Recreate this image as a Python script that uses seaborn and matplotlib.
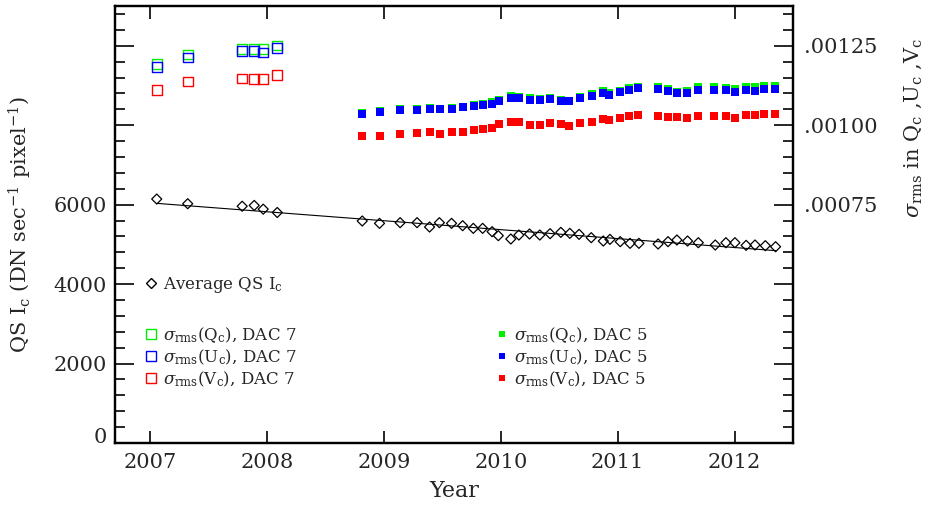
import matplotlib
matplotlib.use("Agg")
import matplotlib.pyplot as plt
from matplotlib.ticker import FixedLocator, FixedFormatter, MultipleLocator
from matplotlib.lines import Line2D
import seaborn as sns

# ---------------- data ----------------
qs_years = [2007.057, 2007.322, 2007.788, 2007.891, 2007.968, 2008.088,
            2008.815, 2008.963, 2009.139, 2009.284, 2009.391, 2009.475, 2009.579,
            2009.674, 2009.765, 2009.845, 2009.926, 2009.979, 2010.086, 2010.155,
            2010.246, 2010.334, 2010.422, 2010.514, 2010.591, 2010.670, 2010.774,
            2010.877, 2010.934, 2011.022, 2011.106, 2011.182, 2011.346, 2011.431,
            2011.507, 2011.598, 2011.690, 2011.835, 2011.926, 2012.003, 2012.099,
            2012.175, 2012.263, 2012.351]
qs_ic = [6141, 6023, 5960, 5980, 5886, 5802,
         5588, 5529, 5546, 5546, 5437, 5546, 5529, 5470, 5403, 5403, 5319, 5219,
         5135, 5235, 5261, 5235, 5269, 5302, 5277, 5252, 5168, 5084, 5126, 5068,
         5026, 5026, 5009, 5068, 5110, 5084, 5042, 4984, 5042, 5042, 4975, 4984,
         4967, 4941]
fit_years = [2007.057, 2012.359]
fit_ic = [6032, 4840]

dac7_years = [2007.057, 2007.322, 2007.788, 2007.891, 2007.968, 2008.088]
dac7_q = [0.001192, 0.001222, 0.001240, 0.001240, 0.001239, 0.001251]
dac7_u = [0.001184, 0.001213, 0.001234, 0.001234, 0.001229, 0.001242]
dac7_v = [0.001111, 0.001137, 0.001147, 0.001146, 0.001146, 0.001157]

dac5_years = [2008.812, 2008.966, 2009.137, 2009.282, 2009.393, 2009.479, 2009.581,
              2009.675, 2009.769, 2009.846, 2009.923, 2009.983, 2010.085, 2010.154,
              2010.248, 2010.333, 2010.419, 2010.513, 2010.581, 2010.675, 2010.778,
              2010.872, 2010.923, 2011.017, 2011.094, 2011.171, 2011.342, 2011.427,
              2011.504, 2011.590, 2011.684, 2011.821, 2011.923, 2012.000, 2012.094,
              2012.171, 2012.256, 2012.342]
dac5_q = [0.0010387, 0.0010450, 0.0010513, 0.0010513, 0.0010555, 0.0010513, 0.0010555,
          0.0010576, 0.0010639, 0.0010670, 0.0010733, 0.0010796, 0.0010922, 0.0010890,
          0.0010859, 0.0010828, 0.0010859, 0.0010796, 0.0010765, 0.0010890, 0.0010985,
          0.0011079, 0.0011016, 0.0011079, 0.0011174, 0.0011205, 0.0011205, 0.0011142,
          0.0011048, 0.0011079, 0.0011205, 0.0011205, 0.0011174, 0.0011142, 0.0011205,
          0.0011205, 0.0011237, 0.0011237]
dac5_u = [0.0010356, 0.0010424, 0.0010481, 0.0010481, 0.0010513, 0.0010513, 0.0010513,
          0.0010576, 0.0010612, 0.0010639, 0.0010670, 0.0010765, 0.0010864, 0.0010864,
          0.0010796, 0.0010796, 0.0010833, 0.0010765, 0.0010765, 0.0010864, 0.0010922,
          0.0011016, 0.0010953, 0.0011048, 0.0011116, 0.0011174, 0.0011142, 0.0011079,
          0.0011016, 0.0011016, 0.0011111, 0.0011111, 0.0011111, 0.0011048, 0.0011111,
          0.0011079, 0.0011142, 0.0011142]
dac5_v = [0.0009658, 0.0009658, 0.0009721, 0.0009753, 0.0009784, 0.0009721, 0.0009784,
          0.0009784, 0.0009847, 0.0009878, 0.0009910, 0.0010036, 0.0010099, 0.0010099,
          0.0010004, 0.0010004, 0.0010067, 0.0010036, 0.0009973, 0.0010067, 0.0010099,
          0.0010193, 0.0010162, 0.0010225, 0.0010298, 0.0010319, 0.0010287, 0.0010256,
          0.0010256, 0.0010225, 0.0010287, 0.0010287, 0.0010287, 0.0010225, 0.0010319,
          0.0010319, 0.0010350, 0.0010350]

year_ticks = [2007, 2008, 2009, 2010, 2011, 2012]
left_ticks = [0, 2000, 4000, 6000, 8000, 10000]
left_labels = ["0", "2000", "4000", "6000", "", ""]
right_ticks = [0.0, 0.00025, 0.0005, 0.00075, 0.001, 0.00125]
right_labels = ["", "", "", ".00075", ".00100", ".00125"]

GREEN, BLUE, RED = "#00ee00", "#0000ff", "#ff0000"

# ---------------- style ----------------
sns.set_style("ticks")
plt.rcParams["font.family"] = ["DejaVu Serif"]
plt.rcParams["mathtext.fontset"] = "dejavuserif"
plt.rcParams["axes.linewidth"] = 1.6

W, H = 930, 505
fig = plt.figure(figsize=(W / 100, H / 100), dpi=100)
ax = fig.add_axes([115 / W, 1 - 443 / H, 678 / W, 437 / H])
ax2 = ax.twinx()

# left axis: QS intensity
sns.lineplot(x=fit_years, y=fit_ic, ax=ax, color="black", linewidth=0.8, legend=False)
sns.scatterplot(x=qs_years, y=qs_ic, ax=ax, marker="D", s=26, facecolor="none",
                edgecolor="black", linewidth=0.9, legend=False, zorder=3)

# right axis: sigma rms
for ys, c in [(dac7_q, GREEN), (dac7_u, BLUE), (dac7_v, RED)]:
    sns.scatterplot(x=dac7_years, y=ys, ax=ax2, marker="s", s=48, facecolor="none",
                    edgecolor=c, linewidth=1.0, legend=False)
for ys, c in [(dac5_q, GREEN), (dac5_u, BLUE), (dac5_v, RED)]:
    sns.scatterplot(x=dac5_years, y=ys, ax=ax2, marker="s", s=34, color=c,
                    linewidth=0, legend=False)

# axes limits & ticks
ax.set_xlim(2006.7, 2012.5)
ax.set_ylim(0, 11000)
ax2.set_ylim(0, 11000 * 1.25e-7)
ax.set_xticks(year_ticks)
ax.set_xticklabels([str(y) for y in year_ticks])
ax.yaxis.set_major_locator(FixedLocator(left_ticks))
ax.yaxis.set_major_formatter(FixedFormatter(left_labels))
ax.yaxis.set_minor_locator(MultipleLocator(400))
ax2.yaxis.set_major_locator(FixedLocator(right_ticks))
ax2.yaxis.set_major_formatter(FixedFormatter(right_labels))
ax2.yaxis.set_minor_locator(MultipleLocator(0.00005))

ax.tick_params(axis="x", which="major", direction="in", length=9, width=1.4,
               top=True, bottom=True, labelsize=15, pad=7)
ax.tick_params(axis="x", which="minor", bottom=False, top=False)
ax.tick_params(axis="y", which="major", direction="in", length=14, width=1.4,
               left=True, right=False, labelsize=15, pad=6)
ax.tick_params(axis="y", which="minor", direction="in", length=7, width=1.4,
               left=True, right=False)
ax2.tick_params(axis="y", which="major", direction="in", length=14, width=1.4,
                right=True, labelsize=15, pad=8)
ax2.tick_params(axis="y", which="minor", direction="in", length=7, width=1.4, right=True)
for a in (ax, ax2):
    for s in a.spines.values():
        s.set_visible(True)
        s.set_linewidth(1.6)
        s.set_color("black")
ax.set_xlabel("")
ax.set_ylabel("")
ax2.set_ylabel("")
# the bottom "0" label sits on the axis corner, as in the original
ax.yaxis.get_major_ticks()[0].label1.set_va("baseline")

# axis titles
fig.text(454 / W, 1 - 491 / H, "Year", ha="center", va="center", fontsize=16)
fig.text(20 / W, 1 - 225 / H, r"QS I$_{\rm c}$ (DN sec$^{-1}$ pixel$^{-1}$)",
         rotation=90, ha="center", va="center", fontsize=15)
fig.text(913 / W, 1 - 128 / H,
         r"$\sigma_{\rm rms}$ in Q$_{\rm c}$ ,U$_{\rm c}$ ,V$_{\rm c}$",
         rotation=90, ha="center", va="center", fontsize=15)

# legends
def hollow(marker, c, ms):
    return Line2D([], [], marker=marker, ls="none", mfc="none", mec=c, ms=ms, mew=1.0)

def filled(c):
    return Line2D([], [], marker="s", ls="none", mfc=c, mec=c, ms=5, mew=0)

common = dict(frameon=False, fontsize=12, borderpad=0, handlelength=0.8,
              handletextpad=0.35, labelspacing=0.15, loc="center left",
              bbox_transform=fig.transFigure, borderaxespad=0)

leg1 = ax2.legend([hollow("D", "black", 5)], [r"Average QS I$_{\rm c}$"],
                  bbox_to_anchor=(144 / W, 1 - 285 / H), **common)
ax2.add_artist(leg1)
labs7 = [r"$\sigma_{\rm rms}$(Q$_{\rm c}$), DAC 7", r"$\sigma_{\rm rms}$(U$_{\rm c}$), DAC 7",
         r"$\sigma_{\rm rms}$(V$_{\rm c}$), DAC 7"]
leg2 = ax2.legend([hollow("s", GREEN, 7), hollow("s", BLUE, 7), hollow("s", RED, 7)], labs7,
                  bbox_to_anchor=(144 / W, 1 - 357 / H), **common)
ax2.add_artist(leg2)
labs5 = [r"$\sigma_{\rm rms}$(Q$_{\rm c}$), DAC 5", r"$\sigma_{\rm rms}$(U$_{\rm c}$), DAC 5",
         r"$\sigma_{\rm rms}$(V$_{\rm c}$), DAC 5"]
ax2.legend([filled(GREEN), filled(BLUE), filled(RED)], labs5,
           bbox_to_anchor=(495 / W, 1 - 357 / H), **common)

fig.savefig("out.png", dpi=100)
